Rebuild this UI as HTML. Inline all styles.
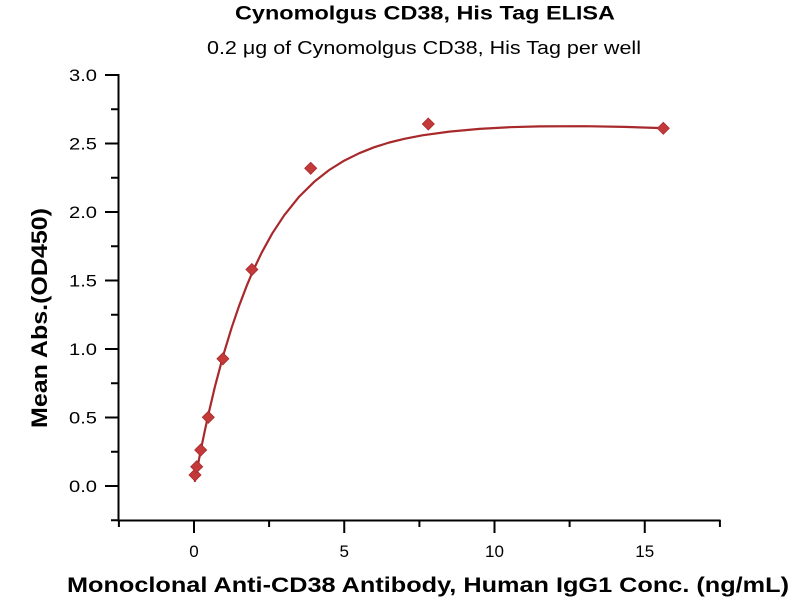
<!DOCTYPE html>
<html>
<head>
<meta charset="utf-8">
<style>
html,body{margin:0;padding:0;background:#fff;}
svg{display:block;}
</style>
</head>
<body>
<svg width="800" height="600" viewBox="0 0 800 600" xmlns="http://www.w3.org/2000/svg">
<rect width="800" height="600" fill="#fff"/>
<!-- Titles -->
<text x="425" y="19.5" text-anchor="middle" font-family="Liberation Sans, sans-serif" font-weight="bold" font-size="19" fill="#000" textLength="380" lengthAdjust="spacingAndGlyphs">Cynomolgus CD38, His Tag ELISA</text>
<text x="424" y="54" text-anchor="middle" font-family="Liberation Sans, sans-serif" font-size="18" fill="#000" textLength="434" lengthAdjust="spacingAndGlyphs">0.2 μg of Cynomolgus CD38, His Tag per well</text>

<!-- Axes -->
<g stroke="#000" stroke-width="2" fill="none">
<line x1="118.5" y1="74" x2="118.5" y2="521"/>
<line x1="117.5" y1="520.5" x2="720.5" y2="520.5"/>
<!-- y ticks -->
<line x1="118" y1="520.25" x2="111" y2="520.25"/>
<line x1="118" y1="486" x2="105" y2="486"/>
<line x1="118" y1="451.75" x2="111" y2="451.75"/>
<line x1="118" y1="417.5" x2="105" y2="417.5"/>
<line x1="118" y1="383.25" x2="111" y2="383.25"/>
<line x1="118" y1="349" x2="105" y2="349"/>
<line x1="118" y1="314.75" x2="111" y2="314.75"/>
<line x1="118" y1="280.5" x2="105" y2="280.5"/>
<line x1="118" y1="246.25" x2="111" y2="246.25"/>
<line x1="118" y1="212" x2="105" y2="212"/>
<line x1="118" y1="177.75" x2="111" y2="177.75"/>
<line x1="118" y1="143.5" x2="105" y2="143.5"/>
<line x1="118" y1="109.25" x2="111" y2="109.25"/>
<line x1="118" y1="75" x2="105" y2="75"/>
<!-- x ticks -->
<line x1="118.9" y1="520" x2="118.9" y2="527"/>
<line x1="194" y1="520" x2="194" y2="533"/>
<line x1="269.1" y1="520" x2="269.1" y2="527"/>
<line x1="344.25" y1="520" x2="344.25" y2="533"/>
<line x1="419.4" y1="520" x2="419.4" y2="527"/>
<line x1="494.5" y1="520" x2="494.5" y2="533"/>
<line x1="569.6" y1="520" x2="569.6" y2="527"/>
<line x1="644.75" y1="520" x2="644.75" y2="533"/>
<line x1="719.9" y1="520" x2="719.9" y2="527"/>
</g>

<!-- y tick labels -->
<g font-family="Liberation Sans, sans-serif" font-size="17" fill="#000" text-anchor="end">
<text x="97" y="492" textLength="28" lengthAdjust="spacingAndGlyphs">0.0</text>
<text x="97" y="423.5" textLength="28" lengthAdjust="spacingAndGlyphs">0.5</text>
<text x="97" y="355" textLength="28" lengthAdjust="spacingAndGlyphs">1.0</text>
<text x="97" y="286.5" textLength="28" lengthAdjust="spacingAndGlyphs">1.5</text>
<text x="97" y="218" textLength="28" lengthAdjust="spacingAndGlyphs">2.0</text>
<text x="97" y="149.5" textLength="28" lengthAdjust="spacingAndGlyphs">2.5</text>
<text x="97" y="81" textLength="28" lengthAdjust="spacingAndGlyphs">3.0</text>
</g>
<!-- x tick labels -->
<g font-family="Liberation Sans, sans-serif" font-size="17" fill="#000" text-anchor="middle">
<text x="194" y="557">0</text>
<text x="344.25" y="557">5</text>
<text x="494.5" y="557">10</text>
<text x="644.75" y="557">15</text>
</g>

<!-- Axis titles -->
<text x="428" y="592" text-anchor="middle" font-family="Liberation Sans, sans-serif" font-weight="bold" font-size="21" fill="#000" textLength="722" lengthAdjust="spacingAndGlyphs">Monoclonal Anti-CD38 Antibody, Human IgG1 Conc. (ng/mL)</text>
<text transform="translate(47,318) rotate(-90)" x="0" y="0" text-anchor="middle" font-family="Liberation Sans, sans-serif" font-weight="bold" font-size="22" fill="#000" textLength="220" lengthAdjust="spacingAndGlyphs">Mean Abs.(OD450)</text>

<!-- Fit curve -->
<polyline fill="none" stroke="#a8292b" stroke-width="2.2" stroke-linejoin="round" stroke-linecap="round"
points="194.9,481 195.8,476.2 197.6,466.6 201.2,448.2 204.8,430.8 208.7,413 215,386.4 223.4,354.8 231.6,327.8 239.1,305.8 246.6,286.1 252.6,271.8 261.6,252.8 272.1,233.7 284.2,215.3 299.2,196.6 314.2,181.8 329.2,170 344.3,160.6 359.3,153.2 374.3,147.2 389.3,142.5 404.4,138.8 422.4,135.3 449.4,131.6 479.5,128.9 509.5,127.2 539.6,126.4 584.7,126.2 623.7,126.9 662.8,128.1"/>

<!-- Data points -->
<g fill="#c43a3a" stroke="#a8292b" stroke-width="0.8">
<polygon points="195,469 201,475 195,481 189,475"/>
<polygon points="196.7,460.7 202.7,466.7 196.7,472.7 190.7,466.7"/>
<polygon points="200.7,444 206.7,450 200.7,456 194.7,450"/>
<polygon points="208.3,411.3 214.3,417.3 208.3,423.3 202.3,417.3"/>
<polygon points="222.9,352.8 228.9,358.8 222.9,364.8 216.9,358.8"/>
<polygon points="251.9,263.5 257.9,269.5 251.9,275.5 245.9,269.5"/>
<polygon points="310.7,162.3 316.7,168.3 310.7,174.3 304.7,168.3"/>
<polygon points="428.3,118 434.3,124 428.3,130 422.3,124"/>
<polygon points="663.3,122.3 669.3,128.3 663.3,134.3 657.3,128.3"/>
</g>
</svg>
</body>
</html>
